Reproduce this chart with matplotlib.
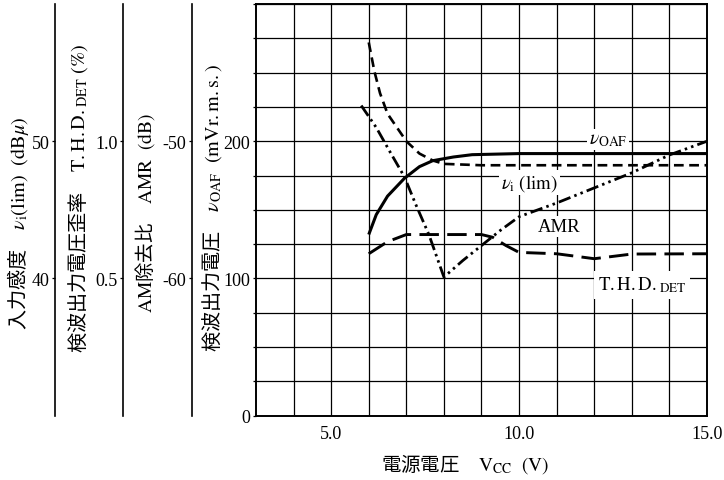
import matplotlib
matplotlib.use("Agg")
import matplotlib.pyplot as plt
from matplotlib.ticker import FixedLocator, FuncFormatter

plt.rcParams['font.family'] = ['Liberation Serif', 'Noto Sans CJK JP', 'DejaVu Sans']
plt.rcParams['mathtext.fontset'] = 'stix'
plt.rcParams['axes.unicode_minus'] = False
plt.rcParams['lines.scale_dashes'] = False

# ---- data (supply voltage, V) ----
voaf_vcc = [6.0, 6.2, 6.5, 6.95, 7.35, 7.7, 8.25, 8.75, 10.0, 12.0, 15.0]
voaf_mv = [132, 146.5, 160, 173, 181.5, 185.8, 188.5, 190.2, 191, 191, 191]

vi_vcc = [6.0, 6.15, 6.3, 6.5, 6.75, 7.0, 7.35, 7.7, 8.0, 9.0, 12.0, 15.0]
vi_dbu = [57.2, 55.1, 53.5, 52.0, 51.0, 50.0, 49.1, 48.6, 48.35, 48.25, 48.25, 48.25]

thd_vcc = [6.0, 6.5, 7.0, 8.0, 9.0, 9.3, 9.65, 10.0, 11.0, 12.0, 13.0, 15.0]
thd_pct = [0.59, 0.634, 0.66, 0.66, 0.66, 0.65, 0.62, 0.595, 0.59, 0.572, 0.589, 0.59]

amr_vcc = [5.8, 6.2, 6.55, 6.95, 7.25, 7.6, 8.0, 8.5, 9.0, 9.5, 10.0, 11.0, 12.0, 13.0, 14.0, 15.0]
amr_db = [-47.4, -49.0, -50.7, -52.6, -54.6, -56.8, -59.9, -58.7, -57.6, -56.5, -55.5,
          -54.5, -53.4, -52.3, -51.0, -50.0]

x_ticks = [5.0, 10.0, 15.0]
voaf_ticks = [0, 100, 200]
vi_ticks = [40, 50]
thd_ticks = [0.5, 1.0]
amr_ticks = [-60, -50]

W, H = 724, 481
fig = plt.figure(figsize=(W / 100, H / 100), dpi=100)
L, R, T, B = 256, 707, 5, 416.7
ax = fig.add_axes([L / W, 1 - B / H, (R - L) / W, (B - T) / H])

ax.set_xlim(3, 15)
ax.set_ylim(0, 300)
ax.xaxis.set_major_locator(FixedLocator(list(range(4, 16))))
ax.xaxis.set_major_formatter(FuncFormatter(lambda v, p: f"{v:.1f}" if v in x_ticks else ""))
ax.yaxis.set_major_locator(FixedLocator(list(range(0, 301, 25))))
ax.yaxis.set_major_formatter(FuncFormatter(lambda v, p: f"{int(v)}" if int(v) in voaf_ticks else ""))
ax.tick_params(axis='x', length=0, pad=7, labelsize=13)
ax.tick_params(axis='y', length=2.5, width=0.9, pad=1.5, labelsize=13)
ax.grid(True, color='black', linewidth=0.9)
for s in ax.spines.values():
    s.set_linewidth(1.4)

ax.plot(voaf_vcc, voaf_mv, color='black', lw=2.2, solid_capstyle='butt')


def side_axis(pos_px, lim, ticks, fmt):
    a = ax.twinx()
    a.set_ylim(*lim)
    a.yaxis.set_ticks_position('left')
    a.yaxis.set_label_position('left')
    for s in ['top', 'right', 'bottom']:
        a.spines[s].set_visible(False)
    a.spines['left'].set_position(('axes', (pos_px - L) / (R - L)))
    a.spines['left'].set_linewidth(1.2)
    a.patch.set_visible(False)
    a.set_yticks(ticks)
    a.set_yticklabels([fmt(t) for t in ticks])
    a.tick_params(axis='y', length=2.5, width=0.9, pad=1.5, labelsize=13)
    return a


ax_vi = side_axis(55, (30, 60), vi_ticks, lambda t: f"{t}")
ax_thd = side_axis(123, (0, 1.5), thd_ticks, lambda t: f"{t:.1f}")
ax_amr = side_axis(192, (-70, -40), amr_ticks, lambda t: f"{t}")

ax_vi.plot(vi_vcc, vi_dbu, color='black', lw=1.9, linestyle=(0, (7, 4)))
ax_thd.plot(thd_vcc, thd_pct, color='black', lw=2.1, linestyle=(0, (14, 6)))
ax_amr.plot(amr_vcc, amr_db, color='black', lw=2.0, linestyle=(0, (9, 3, 1.8, 3, 1.8, 3)))

box = dict(facecolor='white', edgecolor='none', pad=1.5)
ax.text(12.37, 201, r'$\nu_{\rm OAF}$', fontsize=14, ha='center', va='center', bbox=box, zorder=5)
ax.text(10.27, 170, r'$\nu_{\rm i}\ \mathrm{(lim)}$', fontsize=13.5, ha='center', va='center', bbox=box, zorder=5)
ax.text(11.07, 138, 'AMR', fontsize=13.5, ha='center', va='center', bbox=box, zorder=5)
ax.text(13.27, 95.5, r'$\mathrm{T.H.D.}_{\mathrm{DET}}$', fontsize=13.5, ha='center', va='center',
        bbox=dict(facecolor='white', edgecolor='none', pad=3), zorder=5)

cjk = 'Noto Sans CJK JP'
fig.text(18 / W, 1 - 223 / H, r'入力感度　$\nu_{\rm i}\mathrm{(lim)}\ \ \mathrm{(dB}\mu\mathrm{)}$',
         rotation=90, ha='center', va='center', fontsize=14.5, family=cjk)
fig.text(78 / W, 1 - 198 / H, r'検波出力電圧歪率　$\mathrm{T.H.D.}_{\mathrm{DET}}\ \mathrm{(\%)}$',
         rotation=90, ha='center', va='center', fontsize=14.5, family=cjk)
fig.text(145 / W, 1 - 213 / H, r'$\mathrm{AM}$除去比　$\mathrm{AMR\ \ (dB)}$',
         rotation=90, ha='center', va='center', fontsize=14, family=cjk)
fig.text(212 / W, 1 - 208 / H, r'検波出力電圧　$\nu_{\mathrm{OAF}}\ \ \mathrm{(mVr.m.s.)}$',
         rotation=90, ha='center', va='center', fontsize=14.5, family=cjk)
fig.text(465 / W, 1 - 464 / H, r'電源電圧　$\mathrm{V_{CC}\ \ (V)}$',
         ha='center', va='center', fontsize=14, family=cjk)

fig.savefig('out.png', dpi=100)
